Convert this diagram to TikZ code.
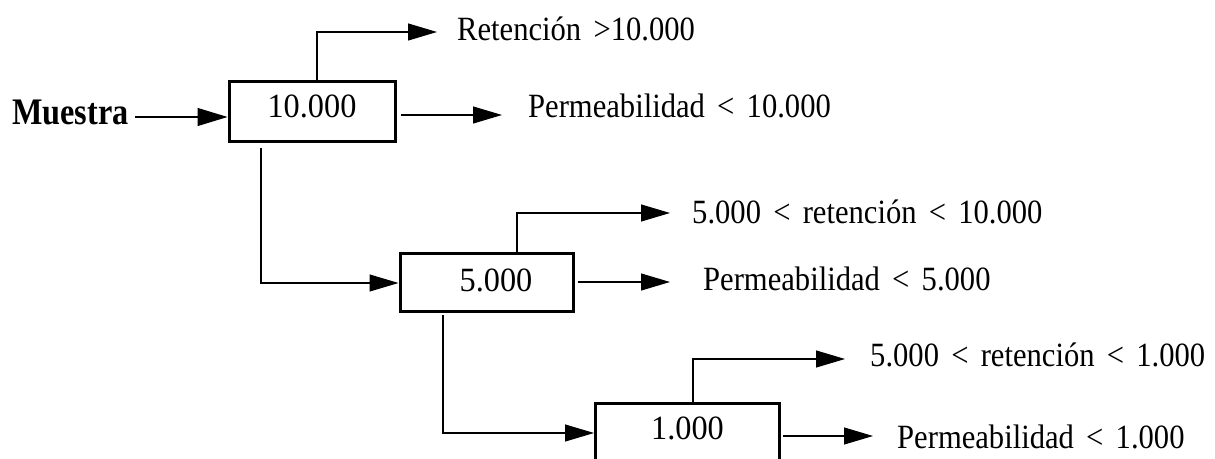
\documentclass[tikz,border=0pt]{standalone}
\usepackage{fontspec}
\setmainfont{Liberation Serif}
\newfontfamily\labelfont{Liberation Serif}[FakeStretch=0.9, WordSpace=1.6]
\newfontfamily\boxfont{Liberation Serif}[FakeStretch=0.95]
\usetikzlibrary{arrows.meta}

\begin{document}
\begin{tikzpicture}[x=1pt,y=1pt,
  filterbox/.style={draw, line width=3pt, rectangle, inner sep=0pt,
    font=\boxfont\fontsize{34}{36}\selectfont, text depth=0pt},
  outlabel/.style={anchor=base west, inner sep=0pt,
    font=\labelfont\fontsize{34}{36}\selectfont},
  flow/.style={line width=1.1pt, -{Triangle[length=29pt,width=17pt]}}
]
\useasboundingbox (0,0) rectangle (1215,458);
\clip (0,0) rectangle (1215,458);

% sample label
\node[anchor=base west, inner sep=0pt, font=\fontsize{37.5}{40}\selectfont\bfseries]
  (muestra) at (12,333) {\scalebox{0.86}[1]{Muestra}};

% filter stages
\node[filterbox, minimum width=166pt, minimum height=60pt, text height=12pt]
  (b1) at (312,346) {10.000};
\node[filterbox, minimum width=173pt, minimum height=58pt, text height=18pt]
  (b2) at (486.5,175) {\hspace*{19pt}5.000};
\node[filterbox, minimum width=184pt, minimum height=58pt, text height=14pt]
  (b3) at (687.5,26) {1.000};

% outputs
\node[outlabel] (ret1)  at (457,417) {Retención >10.000};
\node[outlabel] (perm1) at (528,340) {Permeabilidad < 10.000};
\node[outlabel] (ret2)  at (692,234) {5.000 < retención < 10.000};
\node[outlabel] (perm2) at (703,167) {Permeabilidad < 5.000};
\node[outlabel] (ret3)  at (870,92)  {5.000 < retención < 1.000};
\node[outlabel] (perm3) at (897,10)  {Permeabilidad < 1.000};

% input
\draw[line width=1.1pt, -{Triangle[length=30pt,width=18pt]}]
  ([xshift=6pt,yshift=8pt]muestra.base east) -- ([yshift=-5pt]b1.west);

% stage 1
\draw[flow] ([xshift=5pt]b1.north) |- ([xshift=-20pt,yshift=9pt]ret1.base west);
\draw[flow] ([xshift=4pt,yshift=-3pt]b1.east) -- ([xshift=-26pt,yshift=3pt]perm1.base west);
\draw[flow] ([xshift=-51pt,yshift=-5pt]b1.south) |- (b2.west);

% stage 2
\draw[flow] ([xshift=30.5pt]b2.north) |- ([xshift=-22pt,yshift=11pt]ret2.base west);
\draw[flow] ([xshift=3pt,yshift=1pt]b2.east) -- ([xshift=-33pt,yshift=9pt]perm2.base west);
\draw[flow] ([xshift=-43.5pt,yshift=-2pt]b2.south) |- ([yshift=-1pt]b3.west);

% stage 3
\draw[flow] ([xshift=5.5pt]b3.north) |- ([xshift=-25pt,yshift=7pt]ret3.base west);
\draw[flow] ([xshift=1.5pt,yshift=-4pt]b3.east) -- ([xshift=-24pt,yshift=12pt]perm3.base west);
\end{tikzpicture}
\end{document}
